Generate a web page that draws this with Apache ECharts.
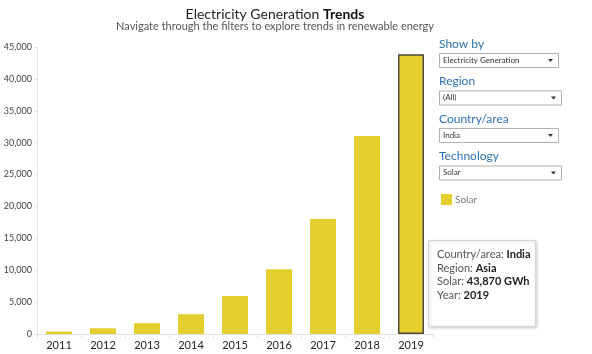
<!DOCTYPE html>
<html>
<head>
<meta charset="utf-8">
<script src="https://cdn.jsdelivr.net/npm/echarts@6/dist/echarts.min.js"></script>
<style>
  html, body { margin: 0; padding: 0; background: #fff; }
  #main { width: 592px; height: 354px; }
</style>
</head>
<body>
<div id="main"></div>
<script>
// data
var years = ['2011', '2012', '2013', '2014', '2015', '2016', '2017', '2018', '2019'];
var solarGWh = [400, 900, 1700, 3100, 5950, 10150, 18050, 31050, 43870];
var yTicks = [0, 5000, 10000, 15000, 20000, 25000, 30000, 35000, 40000, 45000];
var filters = [
    { label: 'Show by', value: 'Electricity Generation', width: 119 },
    { label: 'Region', value: '(All)', width: 122 },
    { label: 'Country/area', value: 'India', width: 119 },
    { label: 'Technology', value: 'Solar', width: 122 }
];
var tipRows = [
    ['Country/area: ', 'India'],
    ['Region: ', 'Asia'],
    ['Solar: ', solarGWh[8].toLocaleString('en-US') + ' GWh'],
    ['Year: ', years[8]]
];

var FONT = 'Lato';
var BAR = '#e4cf2e';

var chart = echarts.init(document.getElementById('main'));

var barData = solarGWh.map(function (v, i) {
    if (i === years.length - 1) {
        return { value: v, itemStyle: { borderColor: '#4b4a3c', borderWidth: 1.5 } };
    }
    return v;
});

// filter panel on the right
var graphics = [];
var fy = 46;
filters.forEach(function (f, i) {
    var top = fy + i * 37.5;
    graphics.push({
        type: 'text', left: 439, top: top - 8,
        style: { text: f.label, fill: '#2c72b5', font: '12px ' + FONT }
    });
    graphics.push({
        type: 'rect', shape: { x: 439.5, y: top + 7.5, width: f.width, height: 14 },
        style: { fill: '#fff', stroke: '#b0b0b0', lineWidth: 1 }
    });
    graphics.push({
        type: 'text', left: 443, top: top + 10,
        style: { text: f.value, fill: '#333', font: '8px ' + FONT }
    });
    graphics.push({
        type: 'polygon',
        shape: { points: [[439 + f.width - 10, top + 13], [439 + f.width - 5, top + 13], [439 + f.width - 7.5, top + 16]] },
        style: { fill: '#333' }
    });
});
// legend swatch
graphics.push({ type: 'rect', shape: { x: 441, y: 194, width: 11, height: 11 }, style: { fill: BAR } });
graphics.push({ type: 'text', left: 455, top: 195, style: { text: 'Solar', fill: '#777', font: '10px ' + FONT } });

// fixed tooltip box
graphics.push({
    type: 'rect', shape: { x: 428.5, y: 240.5, width: 107, height: 86 },
    style: { fill: '#fff', stroke: '#d6d6d6', lineWidth: 1, shadowBlur: 3, shadowColor: 'rgba(0,0,0,0.2)', shadowOffsetX: 1, shadowOffsetY: 1 }
});
graphics.push({
    type: 'text', left: 437, top: 249,
    style: {
        text: tipRows.map(function (r) { return '{a|' + r[0] + '}{b|' + r[1] + '}'; }).join('\n'),
        rich: {
            a: { fill: '#555', font: '11px ' + FONT, lineHeight: 13.7 },
            b: { fill: '#222', font: 'bold 11px ' + FONT, lineHeight: 13.7 }
        }
    }
});

var option = {
    animation: false,
    title: {
        text: '{n|Electricity Generation }{b|Trends}',
        subtext: 'Navigate through the filters to explore trends in renewable energy',
        left: 270, top: 2, textAlign: 'center', itemGap: 0,
        textStyle: {
            fontWeight: 'normal',
            rich: {
                n: { fontFamily: FONT, fontSize: 14, fontWeight: 'normal', color: '#222' },
                b: { fontFamily: FONT, fontSize: 14, fontWeight: 'bold', color: '#111' }
            }
        },
        subtextStyle: { fontFamily: FONT, fontSize: 11, color: '#555' }
    },
    grid: { left: 37, right: 159, top: 47, bottom: 20 },
    xAxis: {
        type: 'category',
        data: years,
        axisLine: { lineStyle: { color: '#e0e0e0' } },
        axisTick: { show: true, length: 4, lineStyle: { color: '#e0e0e0' } },
        axisLabel: { fontFamily: FONT, fontSize: 11, color: '#222', margin: 6 }
    },
    yAxis: {
        type: 'value',
        min: yTicks[0], max: yTicks[yTicks.length - 1], interval: yTicks[1] - yTicks[0],
        axisLine: { show: true, lineStyle: { color: '#e4e4e4' } },
        axisTick: { show: true, length: 3, lineStyle: { color: '#e4e4e4' } },
        splitLine: { show: false },
        axisLabel: {
            fontFamily: FONT, fontSize: 9, color: '#444', margin: 5,
            formatter: function (v) { return v.toLocaleString('en-US'); }
        }
    },
    series: [{
        name: 'Solar',
        type: 'bar',
        barWidth: 26,
        itemStyle: { color: BAR },
        data: barData
    }],
    graphic: graphics
};
chart.setOption(option);
</script>
</body>
</html>
